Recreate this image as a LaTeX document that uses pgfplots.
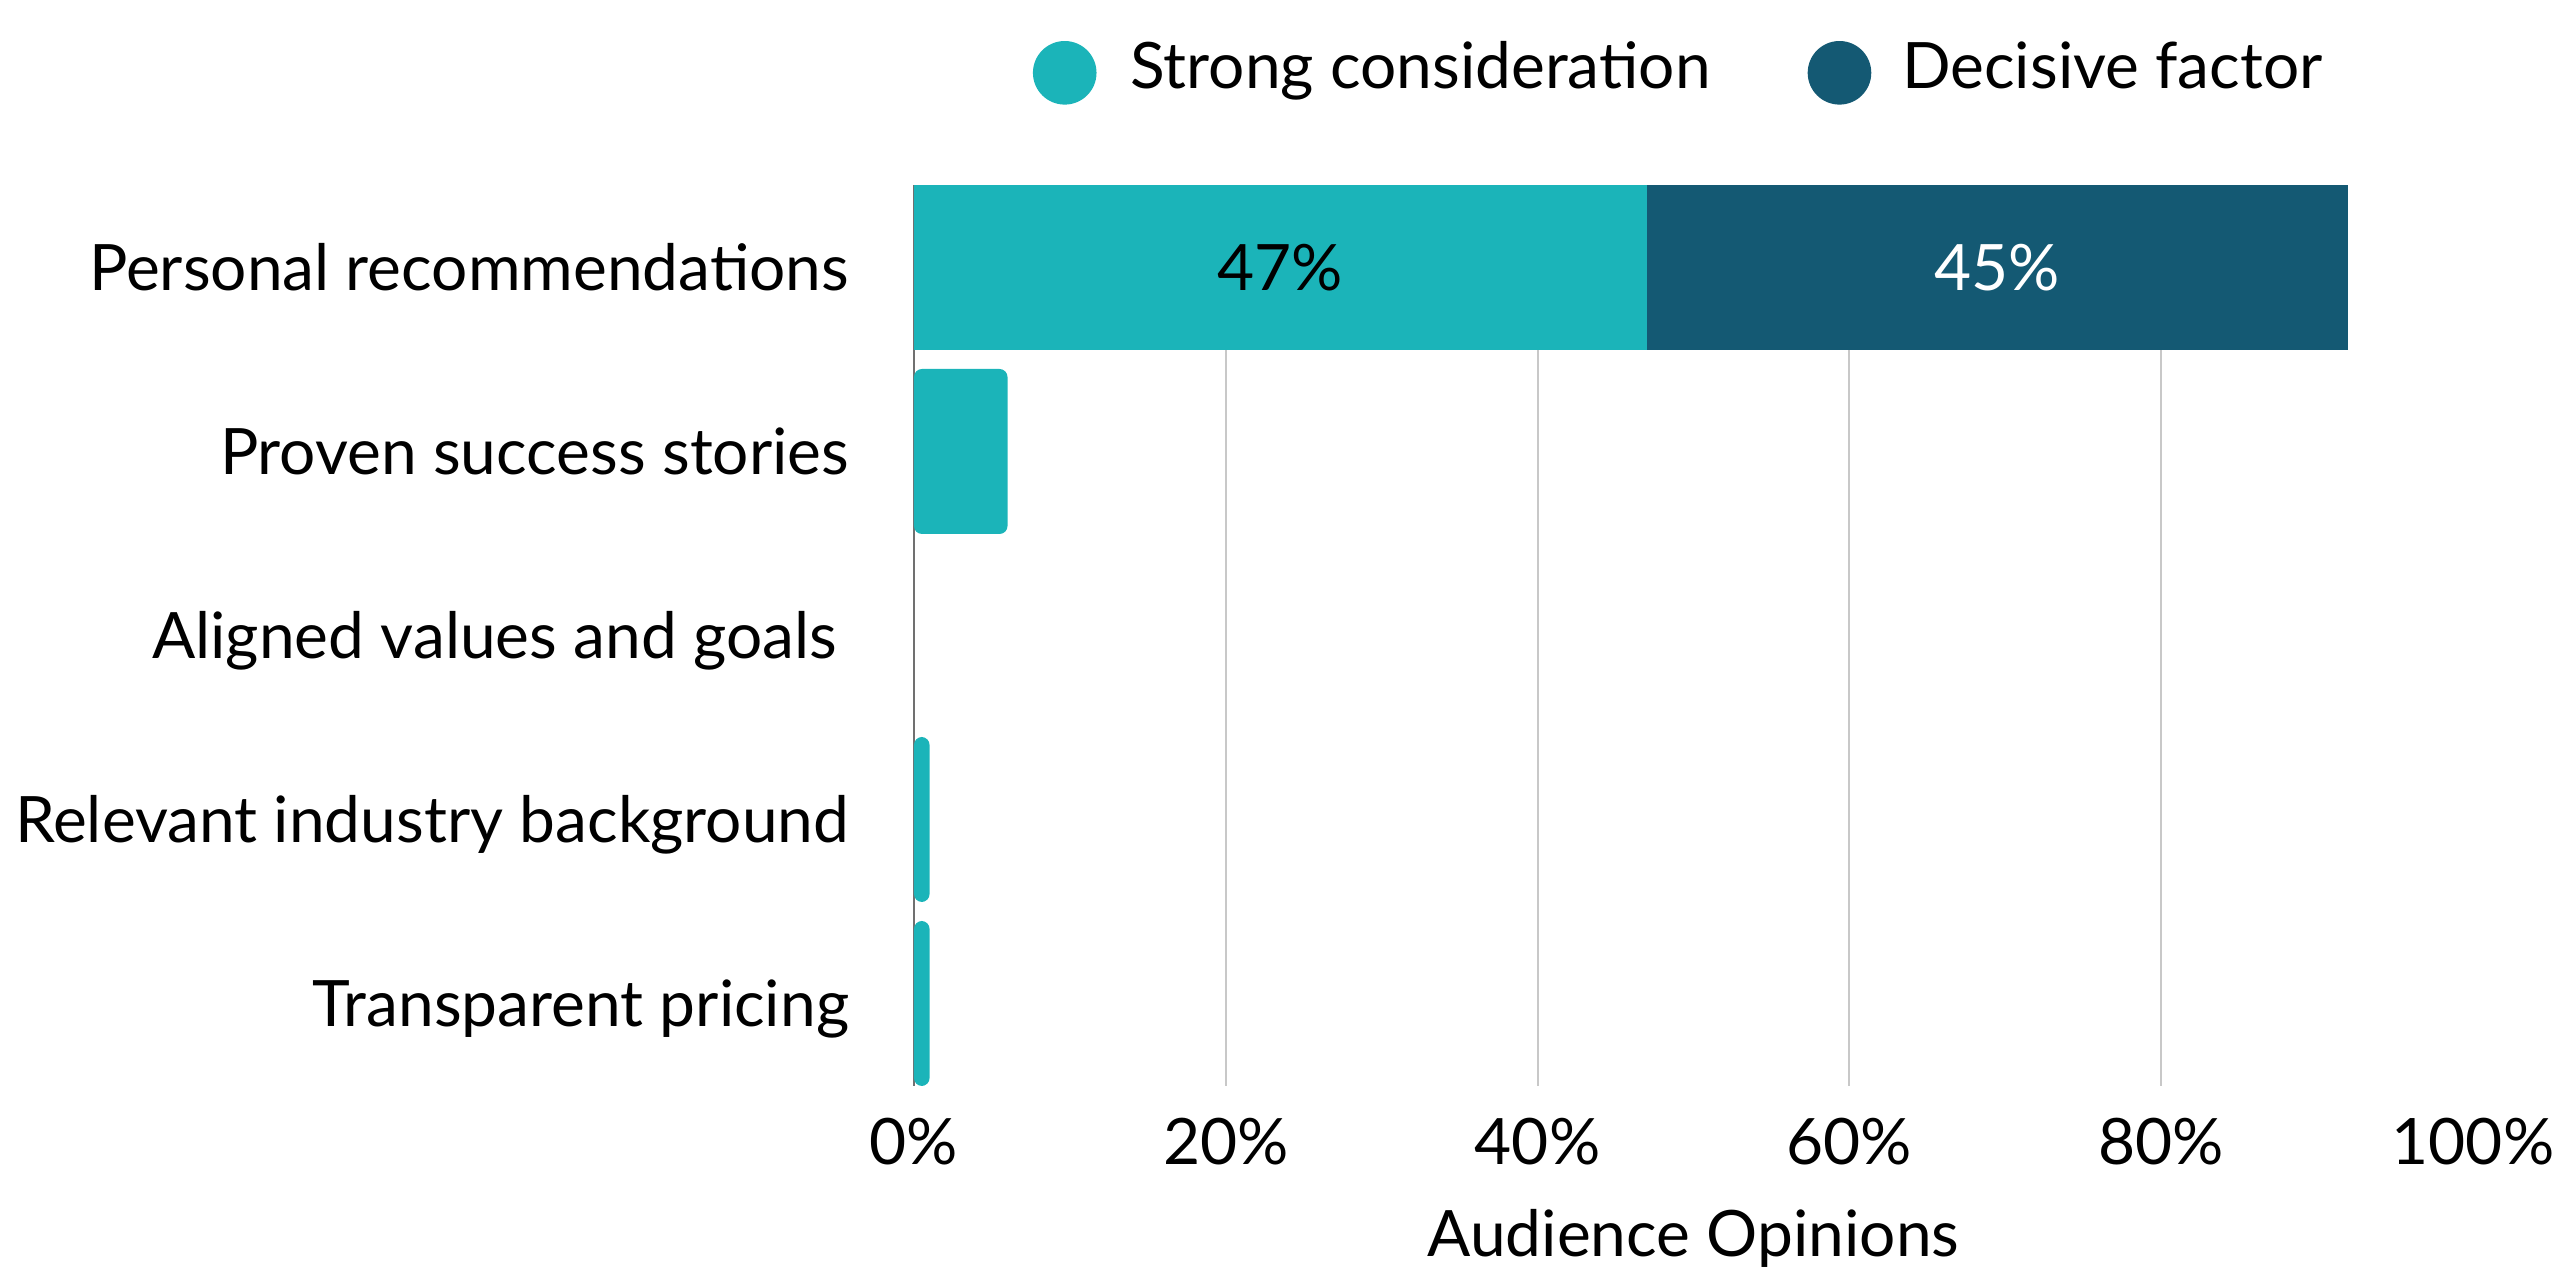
\documentclass[border=0pt]{standalone}
\usepackage{fontspec}
\setmainfont{Lato}
\usepackage{pgfplots}
\usepackage{pgfplotstable}
\pgfplotsset{compat=1.18}
\definecolor{strong}{HTML}{1BB4B9}
\definecolor{decisive}{HTML}{145973}
\definecolor{gridc}{HTML}{C8C8C8}
\definecolor{axisc}{HTML}{707070}
\newcommand\chartfont{\fontsize{16pt}{19pt}\selectfont}

% rows numbered bottom to top; strong split so only the lone bars get rounded ends
\pgfplotstableread{
idx strongA strongB decisive labA labD
4   47      0       45       47\% 45\%
3   0       6       0        {}   {}
2   0       0       0        {}   {}
1   0       1       0        {}   {}
0   0       1       0        {}   {}
}\factors

\begin{document}
\begin{tikzpicture}
\begin{axis}[
  name=ax,
  scale only axis,
  width=389.75pt,
  height=225.25pt,
  xbar stacked,
  bar width=41.25pt,
  xmin=0, xmax=100,
  ymin=-0.4484, ymax=4.4484,
  axis lines=left,
  axis line style={-},
  x axis line style={draw=none},
  y axis line style={draw=axisc, line width=0.6pt},
  xtick={0,20,40,60,80,100},
  xticklabels={0\%,20\%,40\%,60\%,80\%,100\%},
  extra x ticks={20,40,60,80},
  extra x tick labels={},
  extra x tick style={grid=major},
  major grid style={draw=gridc, line width=0.5pt},
  ytick={0,...,4},
  yticklabels={Transparent pricing,Relevant industry background,Aligned values and goals\rule{3pt}{0pt},Proven success stories,Personal recommendations},
  major tick length=0pt,
  tick style={draw=none},
  tick label style={font=\chartfont, inner sep=0pt, text height=11.46pt, text depth=0pt},
  xticklabel shift=8pt,
  yticklabel shift=16pt,
  xlabel={Audience Opinions},
  xlabel style={at={(axis description cs:0.5,0)}, anchor=north, yshift=-31pt,
    inner sep=0pt, text height=11.46pt, text depth=0pt, font=\chartfont},
  legend columns=-1,
  legend cell align=left,
  legend style={
    draw=none, fill=none,
    inner sep=0pt, outer sep=0pt,
    at={(axis description cs:0.0763,1.1598)},
    anchor=north west,
    font=\chartfont,
    nodes={inner sep=0pt, anchor=base},
    column sep=0pt,
    /tikz/every even column/.append style={column sep=24.25pt},
  },
]
  % nodes near coords already sit at the middle of each stacked segment
  \addplot[forget plot, fill=strong, draw=none,
    point meta=explicit symbolic,
    nodes near coords,
    every node near coord/.append style={anchor=center,
      text=black, font=\chartfont, inner sep=0pt},
  ] table[x=strongA, y=idx, meta=labA] {\factors};
  \addplot[forget plot, fill=strong, draw=none, rounded corners=2pt]
    table[x=strongB, y=idx] {\factors};
  \addplot[forget plot, fill=decisive, draw=none,
    point meta=explicit symbolic,
    nodes near coords,
    every node near coord/.append style={anchor=center,
      text=white, font=\chartfont, inner sep=0pt},
  ] table[x=decisive, y=idx, meta=labD] {\factors};

  \addlegendimage{legend image code/.code={
    \fill[strong] (7.75pt,4pt) circle (7.75pt);
    \path (0pt,0pt) (24pt,0pt);}}
  \addlegendentry{Strong consideration}
  \addlegendimage{legend image code/.code={
    \fill[decisive] (7.75pt,4pt) circle (7.75pt);
    \path (0pt,0pt) (23.25pt,0pt);}}
  \addlegendentry{Decisive factor}
\end{axis}
\pgfresetboundingbox
\path ([shift={(-228.5pt,-46.75pt)}]ax.south west) rectangle ++(640pt,318.25pt);
\end{tikzpicture}
\end{document}
